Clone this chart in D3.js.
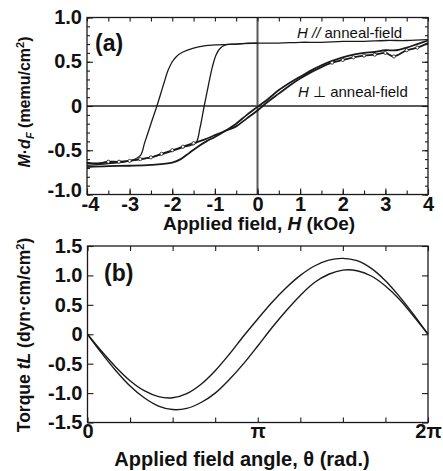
<!DOCTYPE html>
<html>
<head>
<meta charset="utf-8">
<script src="https://cdn.jsdelivr.net/npm/d3@7"></script>
<style>
  html, body { margin: 0; padding: 0; background: #fff; }
  svg { display: block; }
  text { font-family: "Liberation Sans", Arial, Helvetica, sans-serif; fill: #111; }
</style>
</head>
<body>
<svg id="fig" width="443" height="471"></svg>
<script>
// ---------- (a) magnetization loops ----------
const fieldTicks = [-4, -3, -2, -1, 0, 1, 2, 3, 4];
const magTicks = [1.0, 0.5, 0, -0.5, -1.0];
const magTickLabels = ["1.0", "0.5", "0", "-0.5", "-1.0"];

// easy axis (H // anneal-field), descending branch
const easyDownH = [4.0, 3.5, 3.0, 2.5, 2.0, 1.5, 1.0, 0.5, 0.0, -0.5, -1.0, -1.25, -1.5, -1.75, -1.9, -2.0, -2.1, -2.2, -2.36, -2.5, -2.65, -2.75, -3.0, -3.5, -4.0];
const easyDownM = [0.75, 0.74, 0.74, 0.73, 0.73, 0.72, 0.72, 0.71, 0.71, 0.70, 0.69, 0.68, 0.655, 0.61, 0.56, 0.50, 0.40, 0.25, 0.0, -0.20, -0.42, -0.56, -0.62, -0.65, -0.67];
// easy axis, ascending branch
const easyUpH = [-4.0, -3.5, -3.0, -2.5, -2.0, -1.7, -1.45, -1.35, -1.25, -1.15, -1.06, -0.97, -0.88, -0.75, -0.5, -0.2, 0.0];
const easyUpM = [-0.65, -0.64, -0.62, -0.58, -0.51, -0.46, -0.42, -0.25, 0.0, 0.24, 0.44, 0.58, 0.65, 0.69, 0.70, 0.71, 0.71];

// hard axis (H ⊥ anneal-field), two branches
const hardDownH = [4.0, 3.75, 3.5, 3.25, 3.0, 2.75, 2.5, 2.25, 2.0, 1.75, 1.5, 1.25, 1.0, 0.75, 0.5, 0.25, 0.0, -0.25, -0.5, -0.75, -1.0, -1.2, -1.4, -1.6, -1.8, -2.0, -2.5, -3.0, -3.5, -4.0];
const hardDownM = [0.74, 0.70, 0.66, 0.63, 0.63, 0.61, 0.60, 0.58, 0.55, 0.51, 0.46, 0.40, 0.33, 0.26, 0.18, 0.08, -0.01, -0.10, -0.20, -0.28, -0.35, -0.40, -0.46, -0.53, -0.60, -0.64, -0.665, -0.675, -0.68, -0.69];
const hardUpH = [-4.0, -3.75, -3.5, -3.25, -3.0, -2.75, -2.5, -2.25, -2.0, -1.75, -1.5, -1.25, -1.0, -0.75, -0.5, -0.25, 0.0, 0.25, 0.5, 0.75, 1.0, 1.25, 1.5, 1.75, 2.0, 2.25, 2.5, 2.75, 3.0, 3.2, 3.5, 3.75, 4.0];
const hardUpM = [-0.64, -0.65, -0.63, -0.63, -0.62, -0.60, -0.58, -0.54, -0.50, -0.46, -0.42, -0.38, -0.33, -0.28, -0.23, -0.14, -0.05, 0.05, 0.14, 0.23, 0.31, 0.38, 0.44, 0.49, 0.52, 0.55, 0.57, 0.58, 0.60, 0.56, 0.63, 0.66, 0.71];

// ---------- (b) torque curves ----------
const angleTicks = [0, 0.25, 0.5, 0.75, 1, 1.25, 1.5, 1.75, 2];          // in units of π
const angleTickLabels = { 0: "0", 1: "π", 2: "2π" };
const torqueTicks = [1.5, 1.0, 0.5, 0, -0.5, -1.0, -1.5];
const torqueTickLabels = ["1.5", "1.0", "0.5", "0", "-0.5", "-1.0", "-1.5"];
const angle = [0, 0.083, 0.167, 0.25, 0.333, 0.417, 0.5, 0.583, 0.667, 0.75, 0.833, 0.917, 1.0, 1.083, 1.167, 1.25, 1.333, 1.417, 1.5, 1.583, 1.667, 1.75, 1.833, 1.917, 2.0];
const torqueUpper = [0, -0.29, -0.56, -0.79, -0.96, -1.06, -1.08, -1.01, -0.85, -0.62, -0.34, -0.03, 0.26, 0.54, 0.79, 1.00, 1.16, 1.26, 1.29, 1.25, 1.12, 0.91, 0.64, 0.33, 0];
const torqueLower = [0, -0.32, -0.62, -0.88, -1.08, -1.22, -1.28, -1.26, -1.16, -1.00, -0.77, -0.50, -0.20, 0.11, 0.40, 0.66, 0.88, 1.02, 1.09, 1.08, 0.99, 0.82, 0.59, 0.30, 0];

const svg = d3.select("#fig");
const ink = "#1a1a1a";
const zip = (a, b) => a.map((v, i) => [v, b[i]]);

function styleAxis(g) {
  g.select(".domain").remove();
  g.selectAll(".tick line").attr("stroke", ink).attr("stroke-width", 1.1);
  g.selectAll("text").attr("fill", ink).style("font-size", "20px").style("font-weight", "bold");
}

// ===== panel (a) =====
const xa = d3.scaleLinear().domain([-4, 4]).range([87, 428]);
const ya = d3.scaleLinear().domain([-1, 1]).range([194.5, 17.5]);
const ga = svg.append("g");

// zero lines
ga.append("line").attr("x1", xa(0)).attr("x2", xa(0)).attr("y1", ya(-1)).attr("y2", ya(1))
  .attr("stroke", "#5a5a5a").attr("stroke-width", 2);
ga.append("line").attr("x1", xa(-4)).attr("x2", xa(4)).attr("y1", ya(0)).attr("y2", ya(0))
  .attr("stroke", "#5a5a5a").attr("stroke-width", 2);

// minor y ticks every 0.1
const minorA = d3.range(-10, 11).map(i => i / 10);
ga.append("g").attr("transform", `translate(${xa(-4)},0)`)
  .call(d3.axisLeft(ya).tickValues(minorA).tickSize(-3).tickFormat(""))
  .call(styleAxis);
ga.append("g").attr("transform", `translate(${xa(4)},0)`)
  .call(d3.axisRight(ya).tickValues(minorA).tickSize(-3).tickFormat(""))
  .call(styleAxis);
// major y ticks
ga.append("g").attr("transform", `translate(${xa(-4)},0)`)
  .call(d3.axisLeft(ya).tickValues(magTicks).tickSize(-6).tickPadding(5)
        .tickFormat((d, i) => magTickLabels[i]))
  .call(styleAxis)
  .call(g => g.selectAll("text").attr("dy", d => d === -1 ? "0.12em" : "0.3em"));
ga.append("g").attr("transform", `translate(${xa(4)},0)`)
  .call(d3.axisRight(ya).tickValues(magTicks).tickSize(-6).tickFormat(""))
  .call(styleAxis);
// x ticks every 0.5 kOe
const halfA = d3.range(-8, 9).map(i => i / 2);
ga.append("g").attr("transform", `translate(0,${ya(-1)})`)
  .call(d3.axisBottom(xa).tickValues(halfA).tickSize(-4).tickFormat(""))
  .call(styleAxis);
ga.append("g").attr("transform", `translate(0,${ya(1)})`)
  .call(d3.axisTop(xa).tickValues(halfA).tickSize(-4).tickFormat(""))
  .call(styleAxis);
ga.append("g").attr("transform", `translate(0,${ya(-1)})`)
  .call(d3.axisBottom(xa).tickValues(fieldTicks).tickSize(-6).tickPadding(2)
        .tickFormat(d => String(d)))
  .call(styleAxis)
  .call(g => g.selectAll("text").attr("dx", d => d === -4 ? 3 : 0));

// frame
ga.append("rect").attr("x", xa(-4)).attr("y", ya(1))
  .attr("width", xa(4) - xa(-4)).attr("height", ya(-1) - ya(1))
  .attr("fill", "none").attr("stroke", ink).attr("stroke-width", 1.3);

const lineA = d3.line().x(d => xa(d[0])).y(d => ya(d[1])).curve(d3.curveCatmullRom.alpha(0.5));

ga.append("path").datum(zip(hardDownH, hardDownM)).attr("d", lineA)
  .attr("fill", "none").attr("stroke", ink).attr("stroke-width", 1.8);
ga.append("path").datum(zip(hardUpH, hardUpM)).attr("d", lineA)
  .attr("fill", "none").attr("stroke", ink).attr("stroke-width", 1.8);
ga.append("path").datum(zip(easyDownH, easyDownM)).attr("d", lineA)
  .attr("fill", "none").attr("stroke", ink).attr("stroke-width", 1.3);
ga.append("path").datum(zip(easyUpH, easyUpM)).attr("d", lineA)
  .attr("fill", "none").attr("stroke", ink).attr("stroke-width", 1.3);

// small open markers on the hard-axis return branch
const markPts = zip(hardUpH, hardUpM)
  .filter(d => (d[0] <= -1.5 && d[0] >= -3.5) || (d[0] >= 1.75 && d[0] <= 3.75));
ga.append("g").selectAll("circle").data(markPts).join("circle")
  .attr("cx", d => xa(d[0])).attr("cy", d => ya(d[1])).attr("r", 1.6)
  .attr("fill", "#fff").attr("stroke", ink).attr("stroke-width", 0.8);

// labels
ga.append("text").attr("x", 95).attr("y", 51).style("font-size", "23px").style("font-weight", "bold").text("(a)");
const t1 = ga.append("text").attr("x", 297).attr("y", 38).style("font-size", "15px");
t1.append("tspan").style("font-style", "italic").text("H //");
t1.append("tspan").text(" anneal-field");
const t2 = ga.append("text").attr("x", 298).attr("y", 97).style("font-size", "15px");
t2.append("tspan").style("font-style", "italic").text("H");
t2.append("tspan").text(" ⊥ anneal-field");

const xlabA = ga.append("text").attr("x", 259).attr("y", 230).attr("text-anchor", "middle")
  .style("font-size", "19px").style("font-weight", "bold");
xlabA.append("tspan").text("Applied field, ");
xlabA.append("tspan").style("font-style", "italic").text("H");
xlabA.append("tspan").text(" (kOe)");

const ylabA = ga.append("text").attr("transform", `translate(30,102) rotate(-90)`)
  .attr("text-anchor", "middle").style("font-size", "16px").style("font-weight", "bold");
ylabA.append("tspan").style("font-style", "italic").text("M");
ylabA.append("tspan").text("·");
ylabA.append("tspan").style("font-style", "italic").text("d");
ylabA.append("tspan").style("font-style", "italic").style("font-size", "11px").attr("dy", 4).text("F");
ylabA.append("tspan").attr("dy", -4).text(" (memu/cm");
ylabA.append("tspan").style("font-size", "11px").attr("dy", -6).text("2");
ylabA.append("tspan").attr("dy", 6).text(")");

// ===== panel (b) =====
const xb = d3.scaleLinear().domain([0, 2]).range([87.5, 428]);
const yb = d3.scaleLinear().domain([-1.5, 1.5]).range([422.5, 246]);
const gb = svg.append("g");

gb.append("g").attr("transform", `translate(${xb(0)},0)`)
  .call(d3.axisLeft(yb).tickValues(torqueTicks).tickSize(-6).tickPadding(5)
        .tickFormat((d, i) => torqueTickLabels[i]))
  .call(styleAxis);
gb.append("g").attr("transform", `translate(${xb(2)},0)`)
  .call(d3.axisRight(yb).tickValues(torqueTicks).tickSize(-6).tickFormat(""))
  .call(styleAxis);
gb.append("g").attr("transform", `translate(0,${yb(-1.5)})`)
  .call(d3.axisBottom(xb).tickValues(angleTicks).tickSize(-5).tickPadding(1)
        .tickFormat(d => angleTickLabels[d] || ""))
  .call(styleAxis);
gb.append("g").attr("transform", `translate(0,${yb(1.5)})`)
  .call(d3.axisTop(xb).tickValues(angleTicks).tickSize(-5).tickFormat(""))
  .call(styleAxis);

gb.append("rect").attr("x", xb(0)).attr("y", yb(1.5))
  .attr("width", xb(2) - xb(0)).attr("height", yb(-1.5) - yb(1.5))
  .attr("fill", "none").attr("stroke", ink).attr("stroke-width", 1.3);

const lineB = d3.line().x(d => xb(d[0])).y(d => yb(d[1])).curve(d3.curveCatmullRom.alpha(0.5));
gb.append("path").datum(zip(angle, torqueUpper)).attr("d", lineB)
  .attr("fill", "none").attr("stroke", ink).attr("stroke-width", 1.4);
gb.append("path").datum(zip(angle, torqueLower)).attr("d", lineB)
  .attr("fill", "none").attr("stroke", ink).attr("stroke-width", 1.4);

gb.append("text").attr("x", 104).attr("y", 281).style("font-size", "23px").style("font-weight", "bold").text("(b)");

gb.append("text").attr("x", 242).attr("y", 466).attr("text-anchor", "middle")
  .style("font-size", "20px").style("font-weight", "bold")
  .text("Applied field angle, θ (rad.)");

const ylabB = gb.append("text").attr("transform", `translate(30,${(237 + 433) / 2}) rotate(-90)`)
  .attr("text-anchor", "middle").style("font-size", "17.5px").style("font-weight", "bold");
ylabB.append("tspan").text("Torque ");
ylabB.append("tspan").style("font-style", "italic").text("tL");
ylabB.append("tspan").text(" (dyn·cm/cm");
ylabB.append("tspan").style("font-size", "11px").attr("dy", -6).text("2");
ylabB.append("tspan").attr("dy", 6).text(")");
</script>
</body>
</html>
